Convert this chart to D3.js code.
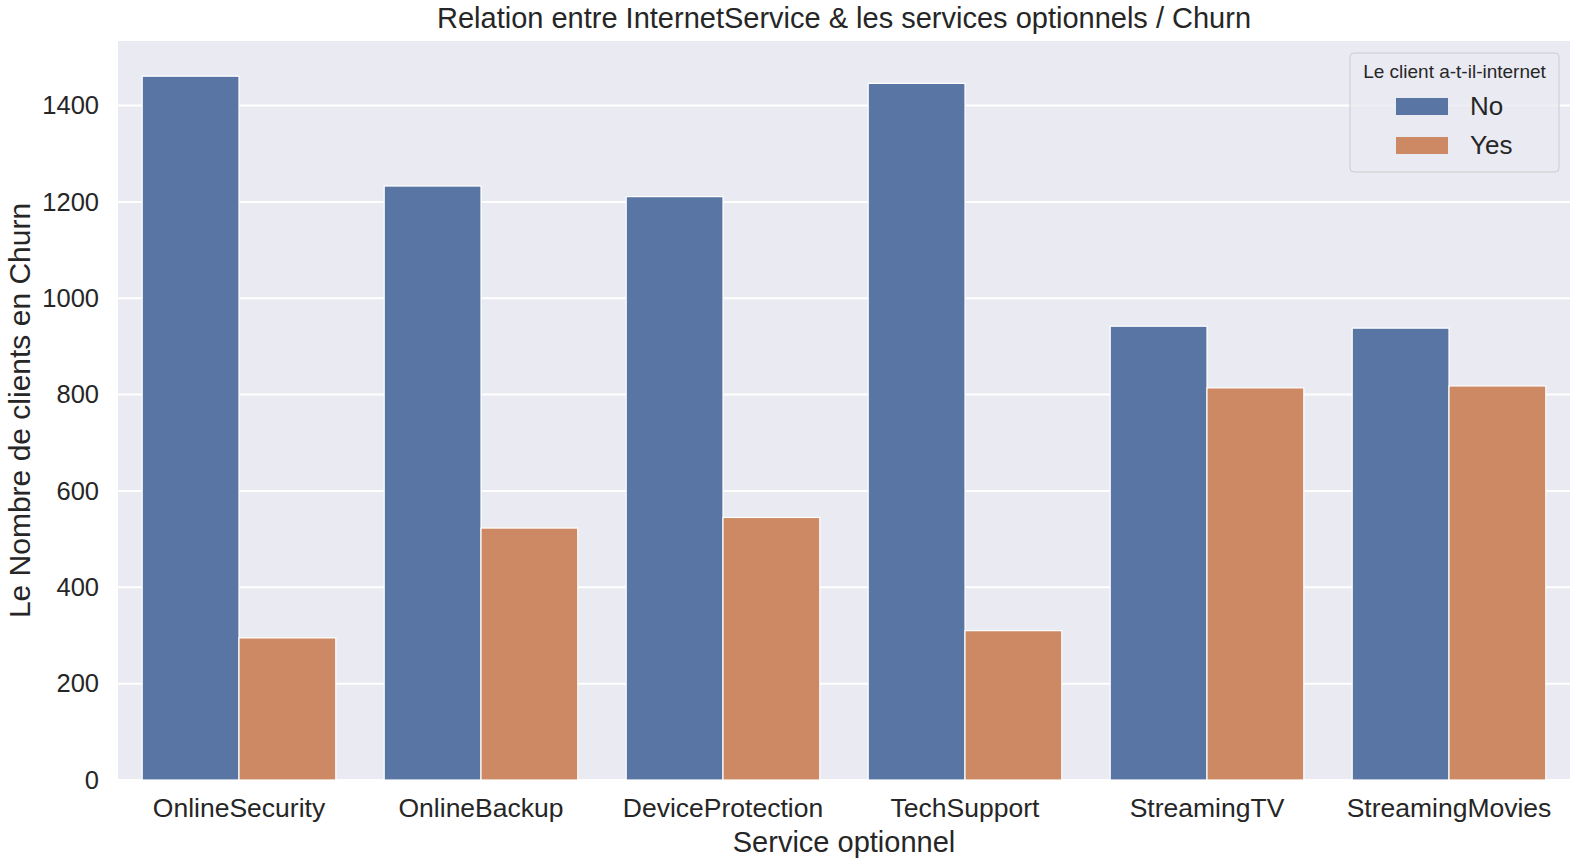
<!DOCTYPE html>
<html>
<head>
<meta charset="utf-8">
<script src="https://cdn.jsdelivr.net/npm/d3@7/dist/d3.min.js"></script>
<style>
  html, body { margin: 0; padding: 0; background: #ffffff; }
  svg { display: block; }
  text { font-family: "Liberation Sans", Arial, sans-serif; fill: #262626; }
</style>
</head>
<body>
<div id="chart"></div>
<script>
// churned customers per optional service, split by answer
var services = ["OnlineSecurity", "OnlineBackup", "DeviceProtection", "TechSupport", "StreamingTV", "StreamingMovies"];
var answers = ["No", "Yes"];
var countsNo = [1461, 1233, 1211, 1446, 942, 938];
var countsYes = [295, 523, 545, 310, 814, 818];
var yTicks = [0, 200, 400, 600, 800, 1000, 1200, 1400];

var width = 1576, height = 864;
var margin = { top: 41, right: 6, bottom: 84, left: 118 };
var colors = { No: "#5875a4", Yes: "#cc8963" };

var rows = services.map(function (s, i) {
    return { service: s, No: countsNo[i], Yes: countsYes[i] };
});

var svg = d3.select("#chart").append("svg")
    .attr("width", width)
    .attr("height", height);

var plotW = width - margin.left - margin.right;
var plotH = height - margin.top - margin.bottom;

var g = svg.append("g")
    .attr("transform", "translate(" + margin.left + "," + margin.top + ")");

// scales: categories take 0.8 of each slot, like seaborn
var x = d3.scaleBand()
    .domain(services)
    .range([0, plotW])
    .paddingInner(0.2)
    .paddingOuter(0.1);

var xHue = d3.scaleBand()
    .domain(answers)
    .range([0, x.bandwidth()]);

var yMax = d3.max(countsNo.concat(countsYes)) * 1.05;
var y = d3.scaleLinear()
    .domain([0, yMax])
    .range([plotH, 0]);

// background + grid
g.append("rect")
    .attr("width", plotW)
    .attr("height", plotH)
    .attr("fill", "#eaeaf2");

g.append("g")
    .selectAll("line")
    .data(yTicks)
    .enter().append("line")
    .attr("x1", 0)
    .attr("x2", plotW)
    .attr("y1", function (d) { return y(d); })
    .attr("y2", function (d) { return y(d); })
    .attr("stroke", "#ffffff")
    .attr("stroke-width", 2);

// bars
var groups = g.selectAll("g.service")
    .data(rows)
    .enter().append("g")
    .attr("class", "service")
    .attr("transform", function (d) { return "translate(" + x(d.service) + ",0)"; });

groups.selectAll("rect")
    .data(function (d) { return answers.map(function (a) { return { key: a, value: d[a] }; }); })
    .enter().append("rect")
    .attr("x", function (d) { return xHue(d.key); })
    .attr("width", xHue.bandwidth())
    .attr("y", function (d) { return y(d.value); })
    .attr("height", function (d) { return y(0) - y(d.value); })
    .attr("fill", function (d) { return colors[d.key]; })
    .attr("stroke", "#ffffff")
    .attr("stroke-width", 1.2);

// y axis labels
var yAxis = d3.axisLeft(y).tickValues(yTicks).tickFormat(d3.format("d")).tickSize(0).tickPadding(19);
var ya = g.append("g").call(yAxis);
ya.select(".domain").remove();
ya.selectAll("text")
    .style("font-size", "25.5px")
    .style("font-family", "'Liberation Sans', Arial, sans-serif")
    .attr("fill", "#262626");

// x axis labels
var xAxis = d3.axisBottom(x).tickSize(0).tickPadding(18);
var xa = g.append("g")
    .attr("transform", "translate(0," + plotH + ")")
    .call(xAxis);
xa.select(".domain").remove();
xa.selectAll("text")
    .style("font-size", "26.5px")
    .style("font-family", "'Liberation Sans', Arial, sans-serif")
    .attr("fill", "#262626");

// titles
svg.append("text")
    .attr("x", margin.left + plotW / 2)
    .attr("y", 28)
    .attr("text-anchor", "middle")
    .style("font-size", "29px")
    .text("Relation entre InternetService & les services optionnels / Churn");

svg.append("text")
    .attr("x", margin.left + plotW / 2)
    .attr("y", 852)
    .attr("text-anchor", "middle")
    .style("font-size", "29px")
    .text("Service optionnel");

svg.append("text")
    .attr("transform", "translate(30," + (margin.top + plotH / 2) + ") rotate(-90)")
    .attr("text-anchor", "middle")
    .style("font-size", "30px")
    .text("Le Nombre de clients en Churn");

// legend
var legend = svg.append("g").attr("transform", "translate(1350,53)");

legend.append("rect")
    .attr("width", 209)
    .attr("height", 119)
    .attr("rx", 4)
    .attr("fill", "#eaeaf2")
    .attr("fill-opacity", 0.8)
    .attr("stroke", "#cccccc")
    .attr("stroke-width", 1);

legend.append("text")
    .attr("x", 104.5)
    .attr("y", 25)
    .attr("text-anchor", "middle")
    .style("font-size", "19px")
    .text("Le client a-t-il-internet");

var items = legend.selectAll("g.item")
    .data(answers)
    .enter().append("g")
    .attr("class", "item")
    .attr("transform", function (d, i) { return "translate(0," + (i * 39) + ")"; });

items.append("rect")
    .attr("x", 46)
    .attr("y", 45)
    .attr("width", 52)
    .attr("height", 17)
    .attr("fill", function (d) { return colors[d]; });

items.append("text")
    .attr("x", 120)
    .attr("y", 62)
    .style("font-size", "26px")
    .text(function (d) { return d; });
</script>
</body>
</html>
